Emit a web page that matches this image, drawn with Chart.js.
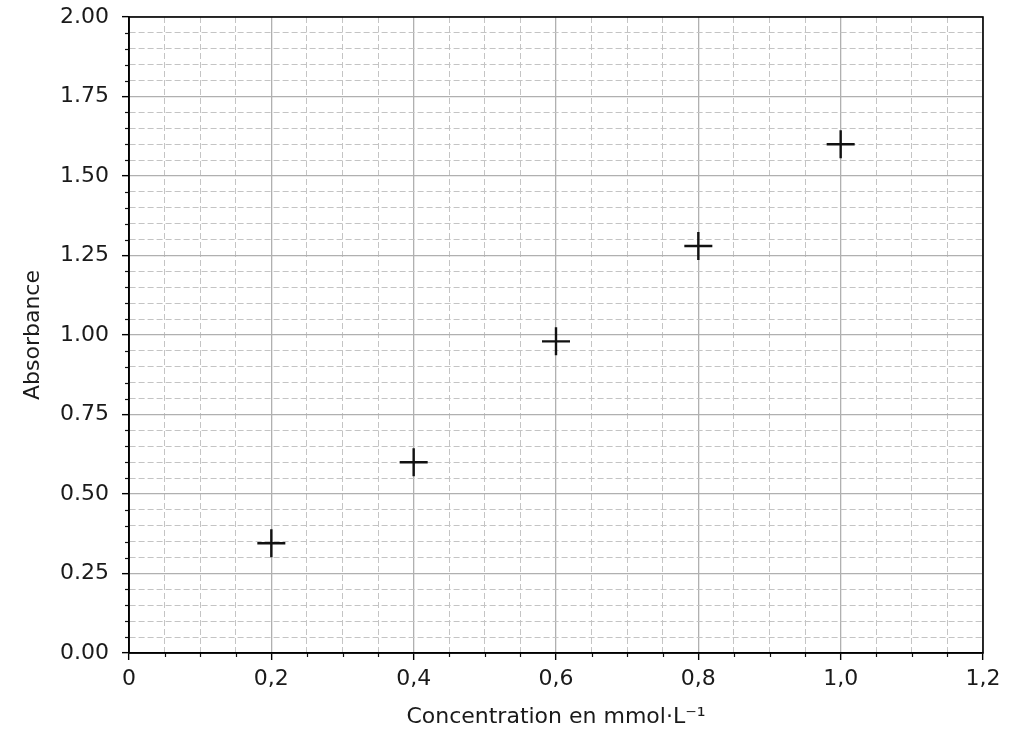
<!DOCTYPE html>
<html>
<head>
<meta charset="utf-8">
<title>Absorbance</title>
<script src="https://cdn.jsdelivr.net/npm/chart.js@4/dist/chart.umd.min.js"></script>
<style>
  html, body { margin: 0; padding: 0; background: #ffffff; }
  #graf { display: block; }
</style>
</head>
<body>
<canvas id="graf" width="1024" height="734"></canvas>
<script>
// ************************* DATOS *************************
const concentraciones = [0.2, 0.4, 0.6, 0.8, 1.0];
const absorbancias = [0.345, 0.6, 0.98, 1.28, 1.6];

const xTickLabels = ["0", "0,2", "0,4", "0,6", "0,8", "1,0", "1,2"];
const yTickLabels = ["0.00", "0.25", "0.50", "0.75", "1.00", "1.25", "1.50", "1.75", "2.00"];

const xMajor = 0.2;
const yMajor = 0.25;
const minorStep = 0.05;

/**
 * Indica si un valor cae en una división principal
 */
function esMayor(valor, paso) {
  const r = valor / paso;
  return Math.abs(r - Math.round(r)) < 1e-6;
}

Chart.defaults.font.family = "'DejaVu Sans', sans-serif";
Chart.defaults.font.size = 22;
Chart.defaults.color = "#1a1a1a";

// ************************* MARCO Y MARCAS MENORES *************************
const marcoPlugin = {
  id: "marco",
  afterDraw(chart) {
    const ctx = chart.ctx;
    const area = chart.chartArea;
    const sx = chart.scales.x;
    const sy = chart.scales.y;

    ctx.save();
    ctx.strokeStyle = "#111111";
    ctx.lineWidth = 1.2;
    // marcas menores del eje x
    sx.ticks.forEach(function (t) {
      if (!esMayor(t.value, xMajor)) {
        const px = Math.round(sx.getPixelForValue(t.value)) + 0.5;
        ctx.beginPath();
        ctx.moveTo(px, area.bottom);
        ctx.lineTo(px, area.bottom + 4);
        ctx.stroke();
      }
    });
    // marcas menores del eje y
    sy.ticks.forEach(function (t) {
      if (!esMayor(t.value, yMajor)) {
        const py = Math.round(sy.getPixelForValue(t.value)) + 0.5;
        ctx.beginPath();
        ctx.moveTo(area.left, py);
        ctx.lineTo(area.left - 4, py);
        ctx.stroke();
      }
    });
    // marco completo
    ctx.lineWidth = 1.6;
    ctx.strokeStyle = "#000000";
    ctx.strokeRect(area.left, area.top, area.right - area.left, area.bottom - area.top);
    ctx.restore();
  },
};

const fondoPlugin = {
  id: "fondo",
  beforeDraw(chart) {
    const ctx = chart.ctx;
    ctx.save();
    ctx.fillStyle = "#ffffff";
    ctx.fillRect(0, 0, chart.width, chart.height);
    ctx.restore();
  },
};

// ************************* GRÁFICO *************************
function cargaGrafico() {
  const puntos = concentraciones.map(function (c, i) {
    return { x: c, y: absorbancias[i] };
  });

  const gridMayorMenor = function (paso) {
    return {
      color: function (ctx) {
        if (!ctx.tick) return "#b0b0b0";
        return esMayor(ctx.tick.value, paso) ? "#b0b0b0" : "#c4c4c4";
      },
      lineWidth: function (ctx) {
        if (!ctx.tick) return 1;
        return esMayor(ctx.tick.value, paso) ? 1.3 : 1;
      },
      tickColor: function (ctx) {
        if (!ctx.tick) return "#000000";
        return esMayor(ctx.tick.value, paso) ? "#000000" : "rgba(0,0,0,0)";
      },
      tickLength: 7,
      tickWidth: 1.4,
    };
  };

  const bordeGuiones = function (paso) {
    return {
      display: true,
      color: "#000000",
      width: 1.6,
      dash: function (ctx) {
        if (!ctx.tick) return [];
        return esMayor(ctx.tick.value, paso) ? [] : [6, 3];
      },
    };
  };

  new Chart(document.getElementById("graf"), {
    type: "scatter",
    data: {
      datasets: [
        {
          label: "Absorbance",
          data: puntos,
          pointStyle: "cross",
          radius: 14,
          hoverRadius: 14,
          borderWidth: 2.4,
          borderColor: "#111111",
          backgroundColor: "#111111",
          showLine: false,
        },
      ],
    },
    options: {
      responsive: false,
      animation: false,
      devicePixelRatio: 1,
      layout: { padding: { top: 17, right: 41, bottom: 0, left: 0 } },
      plugins: {
        legend: { display: false },
        tooltip: { enabled: false },
      },
      scales: {
        x: {
          type: "linear",
          min: 0,
          max: 1.2,
          afterFit: function (scale) {
            scale.height = 81;
            scale.paddingLeft = 0;
            scale.paddingRight = 0;
          },
          ticks: {
            stepSize: minorStep,
            autoSkip: false,
            maxRotation: 0,
            padding: 6,
            callback: function (v) {
              if (!esMayor(v, xMajor)) return "";
              return xTickLabels[Math.round(v / xMajor)];
            },
          },
          grid: gridMayorMenor(xMajor),
          border: bordeGuiones(xMajor),
          title: {
            display: true,
            text: "Concentration en mmol·L⁻¹",
            padding: { top: 0, bottom: 4 },
          },
        },
        y: {
          type: "linear",
          min: 0,
          max: 2,
          afterFit: function (scale) {
            scale.width = 129;
            scale.paddingTop = 0;
            scale.paddingBottom = 0;
          },
          ticks: {
            stepSize: minorStep,
            autoSkip: false,
            padding: 13,
            callback: function (v) {
              if (!esMayor(v, yMajor)) return "";
              return yTickLabels[Math.round(v / yMajor)];
            },
          },
          grid: gridMayorMenor(yMajor),
          border: bordeGuiones(yMajor),
          title: {
            display: true,
            text: "Absorbance",
            padding: { top: 20, bottom: 0 },
          },
        },
      },
    },
    plugins: [fondoPlugin, marcoPlugin],
  });
}

cargaGrafico();
</script>
</body>
</html>
